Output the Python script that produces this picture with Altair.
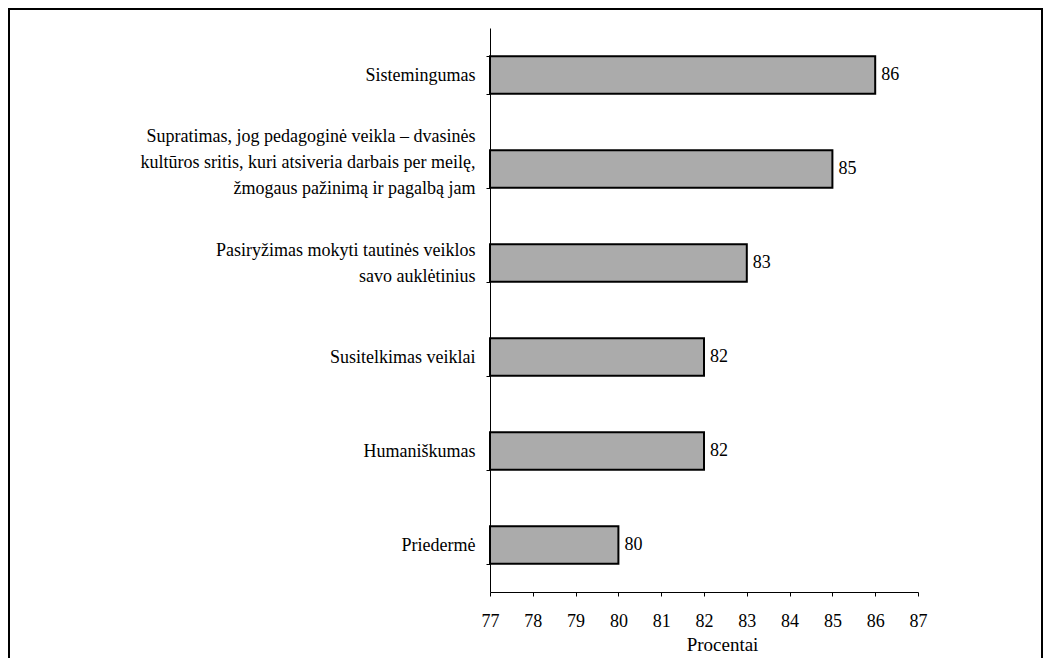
import altair as alt
import pandas as pd

categories = [
    "Sistemingumas",
    "Supratimas, jog pedagoginė veikla – dvasinės\nkultūros sritis, kuri atsiveria darbais per meilę,\nžmogaus pažinimą ir pagalbą jam",
    "Pasiryžimas mokyti tautinės veiklos\nsavo auklėtinius",
    "Susitelkimas veiklai",
    "Humaniškumas",
    "Priedermė",
]
values = [86, 85, 83, 82, 82, 80]
axis_min = 77
axis_max = 87
x_ticks = list(range(77, 88))

df = pd.DataFrame({"cat": categories, "val": values})
FONT = "Liberation Serif"

x_enc = alt.X(
    "val:Q",
    scale=alt.Scale(domain=[axis_min, axis_max], zero=False, nice=False),
    axis=alt.Axis(
        values=x_ticks,
        title="Procentai",
        grid=False,
        tickSize=4,
        tickColor="black",
        domainColor="black",
        labelFont=FONT,
        labelFontSize=18,
        labelPadding=16,
        labelColor="black",
        titleFont=FONT,
        titleFontSize=19,
        titleFontWeight="normal",
        titleColor="black",
        titlePadding=5,
        titleX=232,
        labelFlush=False,
    ),
)
y_enc = alt.Y(
    "cat:N",
    sort=categories,
    scale=alt.Scale(paddingInner=0.6, paddingOuter=0.3),
    axis=alt.Axis(
        title=None,
        tickBand="extent",
        tickSize=4,
        tickColor="black",
        domainColor="black",
        labelFont=FONT,
        labelFontSize=18,
        labelColor="black",
        labelPadding=11,
        labelLineHeight=26,
        labelLimit=470,
        labelBaseline="middle",
        labelOffset={
            "condition": [
                {"test": "length(split(datum.label, '\\n')) == 3", "value": -33},
                {"test": "length(split(datum.label, '\\n')) == 2", "value": -13},
            ],
            "value": 0,
        },
        labelExpr="split(datum.label, '\\n')",
    ),
)

frame = alt.Chart(alt.Data(values=[{}])).mark_rect(
    fillOpacity=0, stroke="black", strokeWidth=2
).encode(
    x=alt.value(-481), x2=alt.value(552), y=alt.value(-19), y2=alt.value(720)
)

bars = alt.Chart(df).mark_bar(
    color="#ababab", stroke="black", strokeWidth=2
).encode(x=x_enc, x2=alt.datum(axis_min), y=y_enc)

labels = alt.Chart(df).mark_text(
    align="left", baseline="middle", dx=6, fontSize=18, font=FONT, color="black"
).encode(x="val:Q", y=alt.Y("cat:N", sort=categories), text="val:Q")

chart = (
    alt.layer(frame, bars, labels)
    .properties(
        width=428,
        height=564,
        autosize=alt.AutoSizeParams(type="none"),
        padding={"left": 482, "top": 20, "right": 125, "bottom": 66},
    )
    .configure(font=FONT, background="white")
    .configure_view(stroke="transparent", strokeWidth=0)
)

chart.save("out.html", embed_options={"renderer": "svg", "actions": False})
